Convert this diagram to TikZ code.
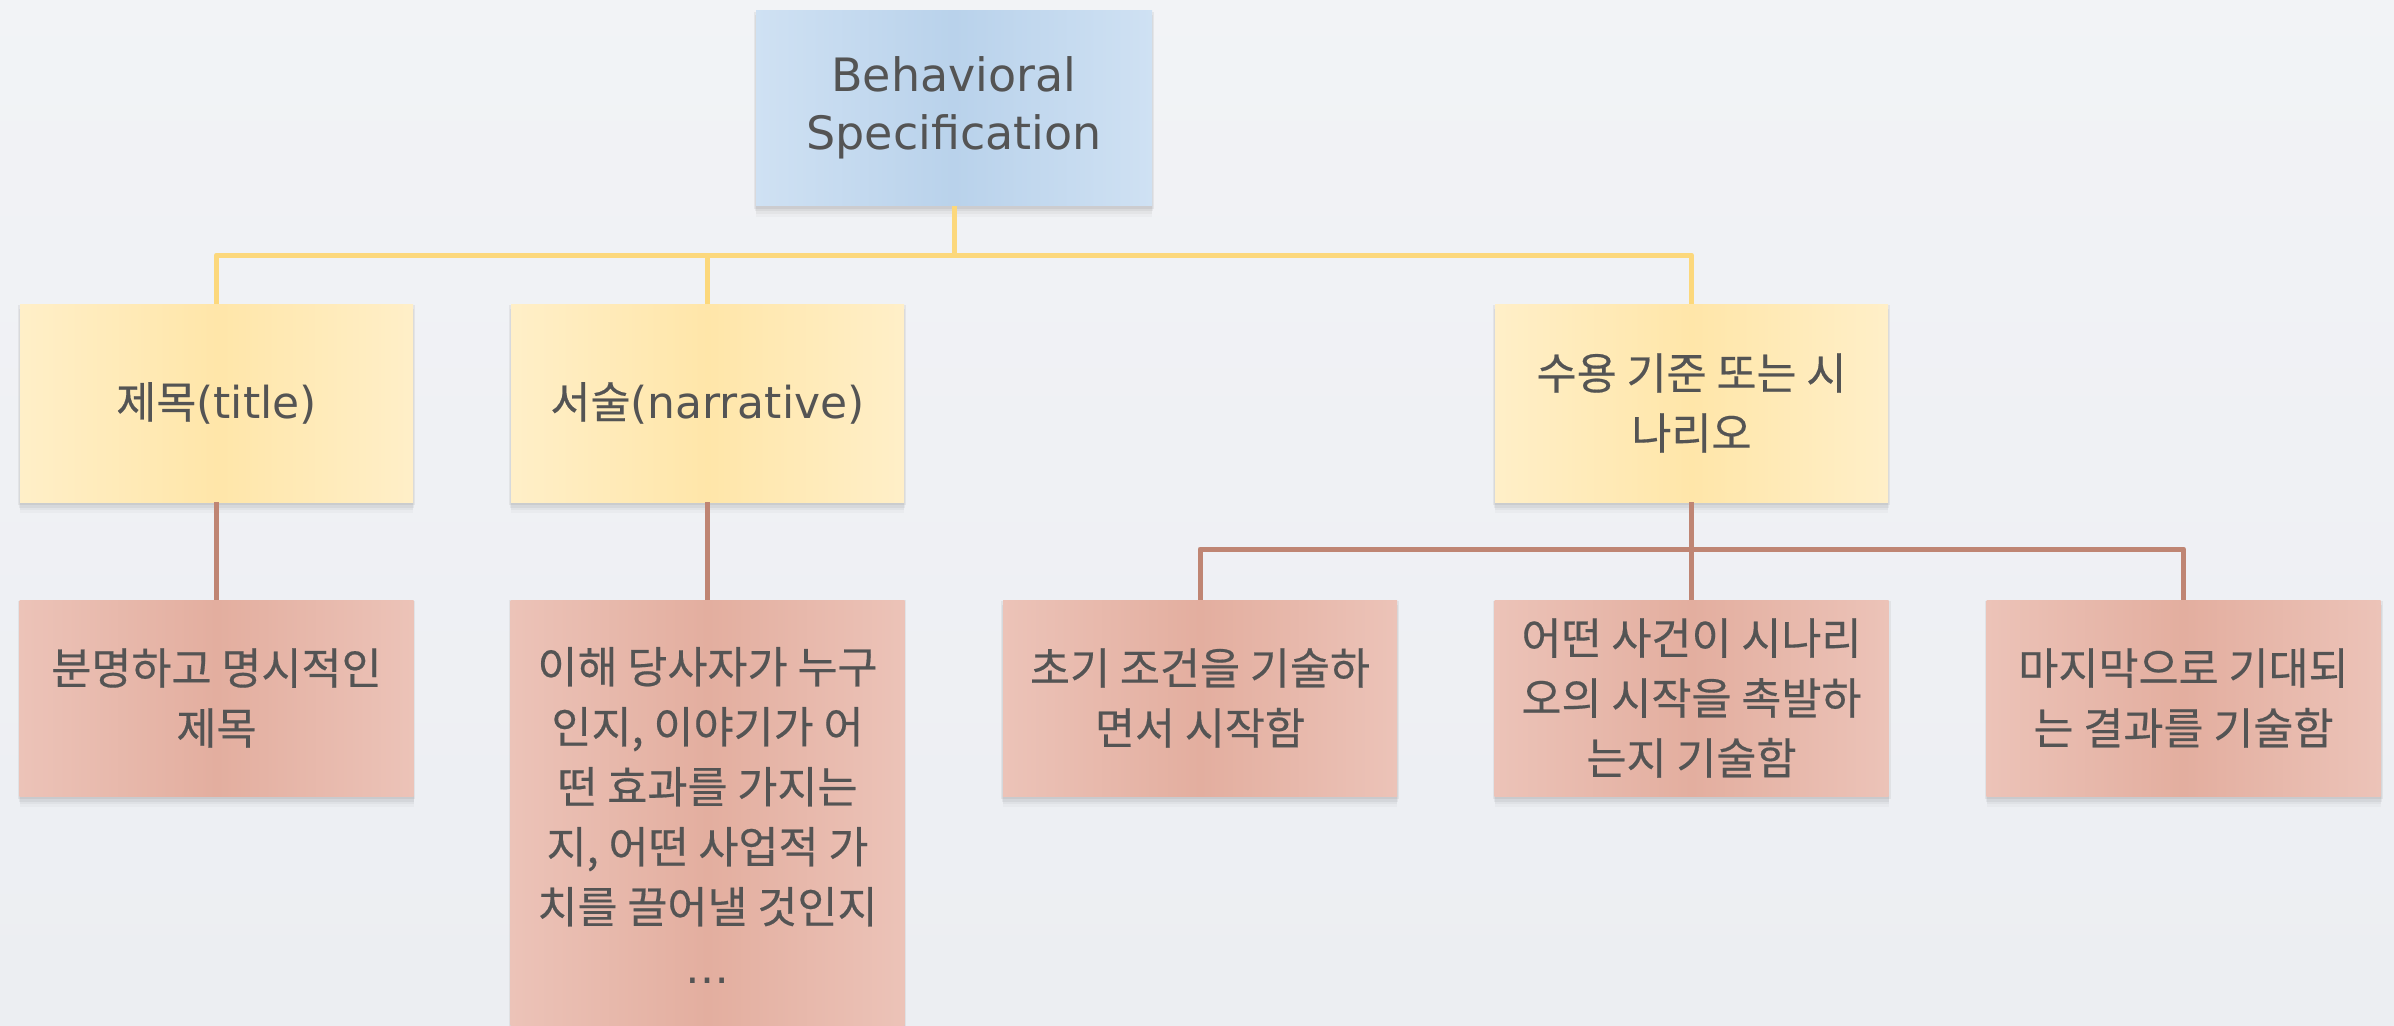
\documentclass[tikz,border=0pt]{standalone}
\usepackage{fontspec}
\setmainfont{DejaVu Sans}
\newfontfamily\kr{Noto Sans CJK KR}[Scale=0.99, FakeBold=0.4]
\usetikzlibrary{shadows}
\definecolor{bgc}{HTML}{ECEEF2}
\definecolor{txt}{HTML}{545454}
\definecolor{rootmid}{HTML}{B9D2EB}
\definecolor{rootedge}{HTML}{CFE1F3}
\definecolor{ymid}{HTML}{FFE6A9}
\definecolor{yedge}{HTML}{FFEFC8}
\definecolor{pmid}{HTML}{E3AE9F}
\definecolor{pedge}{HTML}{ECC3B8}
\definecolor{yline}{HTML}{FCD87C}
\definecolor{bline}{HTML}{BF8573}
\tikzset{
  boxbase/.style={rectangle, inner sep=0pt, align=center, text=txt,
    font=\fontsize{22}{30}\selectfont,
    drop shadow={shadow xshift=0pt, shadow yshift=-1pt, shadow scale=1.01, opacity=.08, fill=black!70},
    drop shadow={shadow xshift=0pt, shadow yshift=-2.5pt, shadow scale=1.005, opacity=.07, fill=black!70},
    drop shadow={shadow xshift=0pt, shadow yshift=-4pt, opacity=.05, fill=black!70},
    drop shadow={shadow xshift=0pt, shadow yshift=-5.5pt, opacity=.03, fill=black!70}},
  rootbox/.style={boxbase, minimum width=198pt, minimum height=97.5pt,
    font=\fontsize{23}{29}\selectfont,
    left color=rootedge, right color=rootedge, middle color=rootmid},
  ybox/.style={boxbase, minimum width=196.5pt, minimum height=99pt,
    left color=yedge, right color=yedge, middle color=ymid},
  pbox/.style={boxbase, minimum width=197pt, minimum height=98pt,
    left color=pedge, right color=pedge, middle color=pmid},
  yconn/.style={draw=yline, line width=2.5pt, line join=round},
  bconn/.style={draw=bline, line width=2.5pt, line join=round},
}
\begin{document}
\begin{tikzpicture}[x=0.5pt, y=-0.5pt]
\useasboundingbox (0,0) rectangle (2394,1025);
\clip (0,0) rectangle (2394,1025);
\fill[top color=bgc!70!white, bottom color=bgc] (0,0) rectangle (2394,1025);

\coordinate (ybus) at (954,255);
\coordinate (bbus) at (1691.5,549);

\node[rootbox] (root) at (954,108) {Behavioral\\Specification};
\node[ybox] (t1) at (216.5,403) {{\kr 제목}(title)};
\node[ybox] (t2) at (707.5,403) {{\kr 서술}(narrative)};
\node[ybox] (t3) at (1691.5,403) {\kr 수용 기준 또는 시\\\kr 나리오};

\draw[yconn] (root.south) -- (ybus);
\draw[yconn] (t1.north) |- (t3.north |- ybus) -- (t3.north);
\draw[yconn] (t2.north) -- (t2.north |- ybus);

\node[pbox] (d1) at (216.5,698) {\kr 분명하고 명시적인\\\kr 제목};
\node[pbox, minimum height=215pt] (d2) at (707.5,815) {\kr 이해 당사자가 누구\\\kr 인지, 이야기가 어\\\kr 떤 효과를 가지는\\\kr 지, 어떤 사업적 가\\\kr 치를 끌어낼 것인지\\…};
\node[pbox] (c1) at (1200,698) {\kr 초기 조건을 기술하\\\kr 면서 시작함};
\node[pbox] (c2) at (1691.5,698) {\kr 어떤 사건이 시나리\\\kr 오의 시작을 촉발하\\\kr 는지 기술함};
\node[pbox] (c3) at (2183.5,698) {\kr 마지막으로 기대되\\\kr 는 결과를 기술함};

\draw[bconn] (t1.south) -- (d1.north);
\draw[bconn] (t2.south) -- (d2.north);
\draw[bconn] (t3.south) -- (c2.north);
\draw[bconn] (c1.north) |- (bbus) -| (c3.north);
\end{tikzpicture}
\end{document}
